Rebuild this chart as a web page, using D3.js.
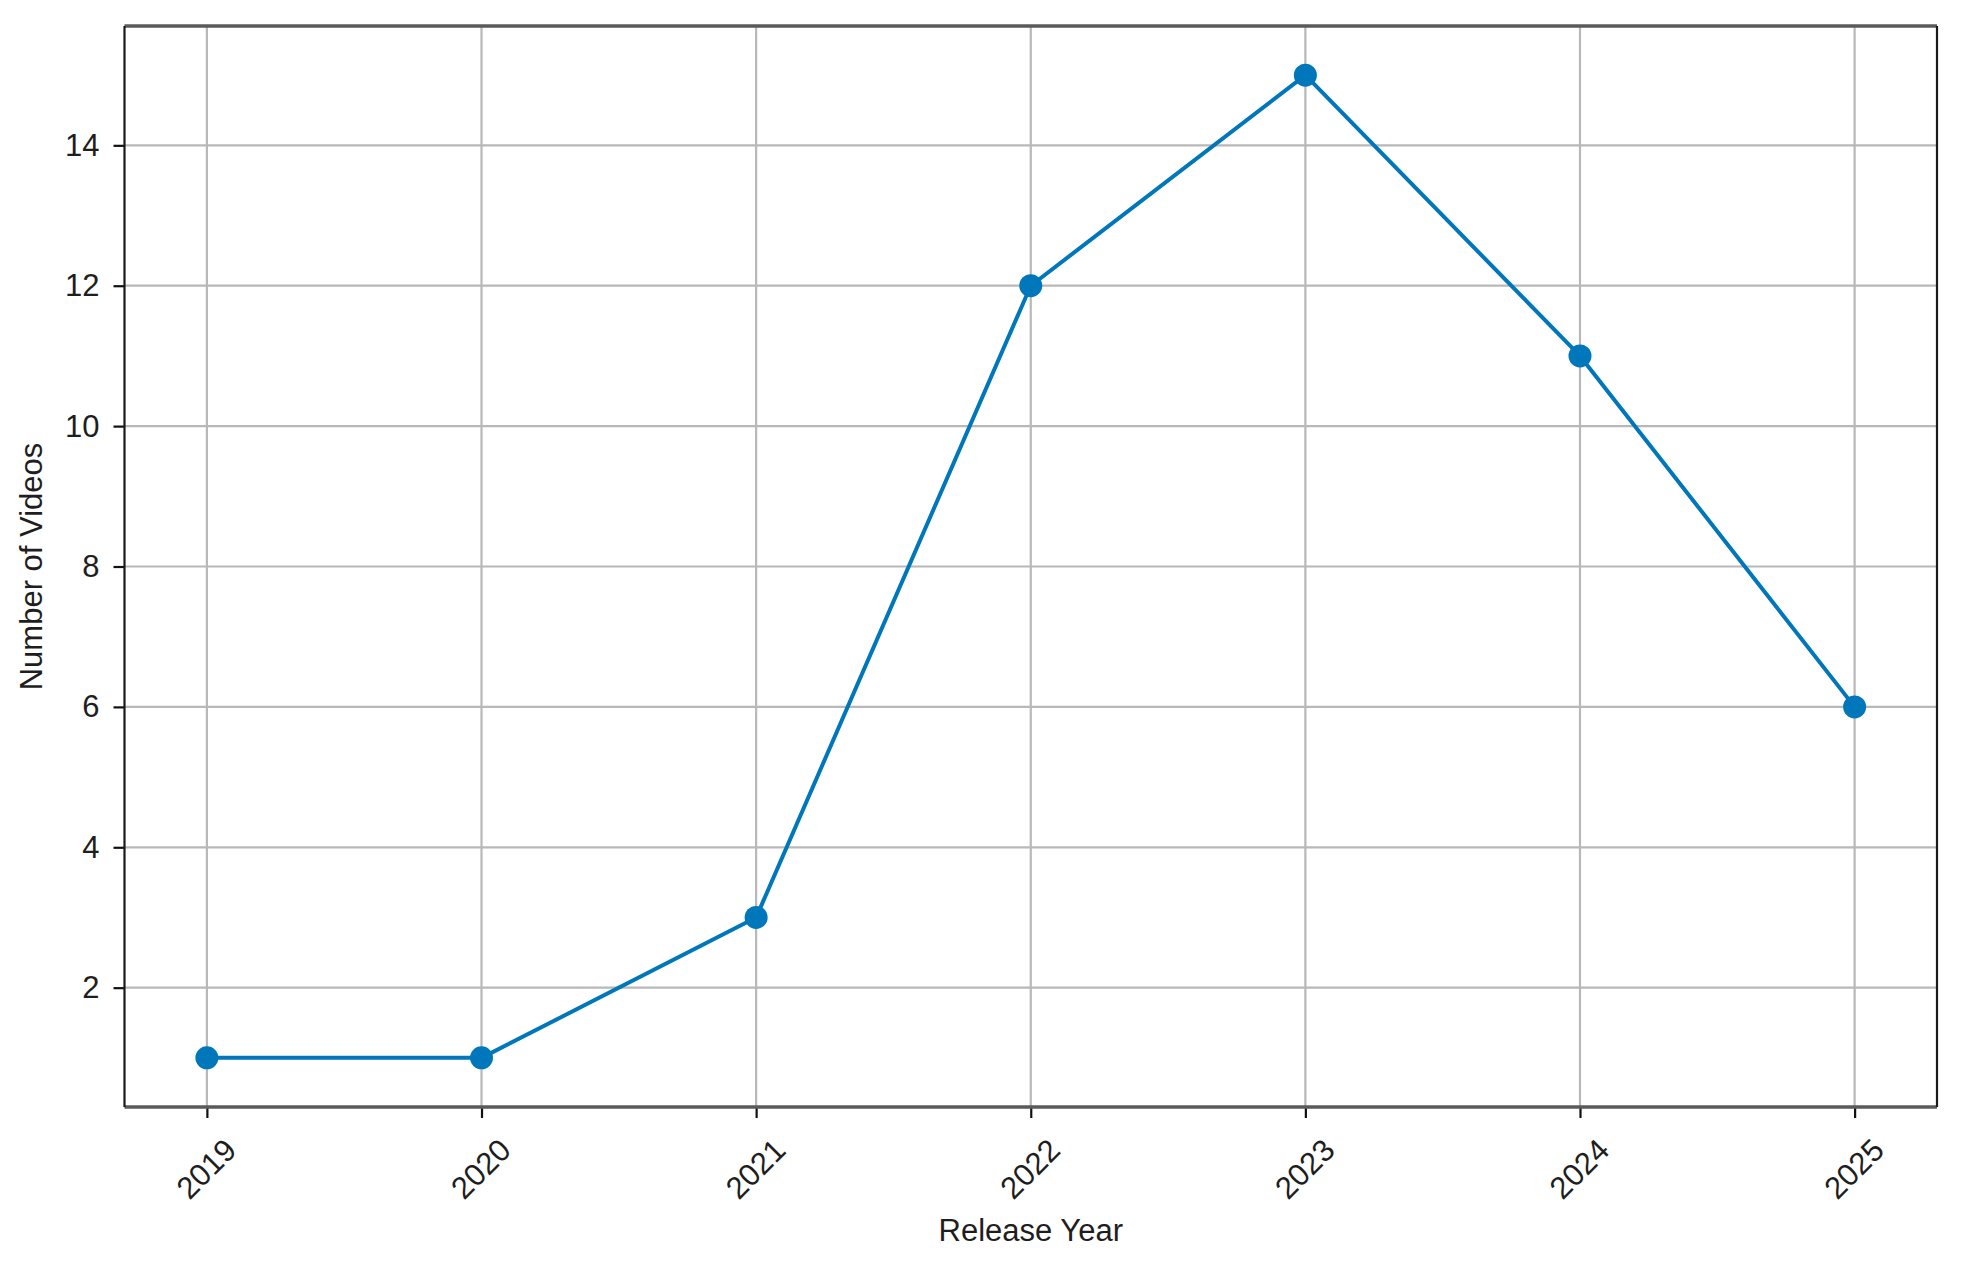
<!DOCTYPE html>
<html>
<head>
<meta charset="utf-8">
<script src="https://cdn.jsdelivr.net/npm/d3@7"></script>
<style>
  html, body { margin: 0; padding: 0; background: #fff; }
  svg { display: block; font-family: "Liberation Sans", Arial, sans-serif; }
</style>
</head>
<body>
<svg id="chart" width="1961" height="1280"></svg>
<script>
const years = [2019, 2020, 2021, 2022, 2023, 2024, 2025];
const counts = [1, 1, 3, 12, 15, 11, 6];
const yTicks = [2, 4, 6, 8, 10, 12, 14];
const xLabel = "Release Year";
const yLabel = "Number of Videos";

const W = 1961, H = 1280;
const m = { left: 124.5, right: W - 1937, top: 26, bottom: H - 1107 };
const svg = d3.select("#chart");

const x = d3.scaleLinear().domain([2018.7, 2025.3]).range([m.left, W - m.right]);
const y = d3.scaleLinear().domain([0.3, 15.7]).range([H - m.bottom, m.top]);

// grid
const grid = svg.append("g");
grid.selectAll("line.vx").data(years).join("line")
  .attr("x1", d => x(d)).attr("x2", d => x(d))
  .attr("y1", m.top).attr("y2", H - m.bottom)
  .attr("stroke", "#b8b8b8").attr("stroke-width", 2.2);
grid.selectAll("line.hy").data(yTicks).join("line")
  .attr("y1", d => y(d)).attr("y2", d => y(d))
  .attr("x1", m.left).attr("x2", W - m.right)
  .attr("stroke", "#b8b8b8").attr("stroke-width", 2.2);

// axes
const xAxis = svg.append("g")
  .attr("transform", `translate(0,${H - m.bottom})`)
  .call(d3.axisBottom(x).tickValues(years).tickFormat(d3.format("d")).tickSize(11).tickPadding(8));
xAxis.select(".domain").remove();
xAxis.selectAll(".tick line").attr("stroke", "#111").attr("stroke-width", 2.2);
xAxis.selectAll(".tick text")
  .attr("font-size", 31).attr("fill", "#1e1e1e")
  .attr("text-anchor", "middle")
  .attr("dy", null).attr("y", null)
  .attr("dominant-baseline", "central")
  .attr("transform", "translate(-1,62) rotate(-45)");

const yAxis = svg.append("g")
  .attr("transform", `translate(${m.left},0)`)
  .call(d3.axisLeft(y).tickValues(yTicks).tickFormat(d3.format("d")).tickSize(11).tickPadding(14));
yAxis.select(".domain").remove();
yAxis.selectAll(".tick line").attr("stroke", "#111").attr("stroke-width", 2.2);
yAxis.selectAll(".tick text").attr("font-size", 31).attr("fill", "#1e1e1e");

// frame
const fr = svg.append("g");
fr.append("line").attr("x1", m.left).attr("x2", W - m.right).attr("y1", m.top).attr("y2", m.top)
  .attr("stroke", "#5a5a5a").attr("stroke-width", 3.5);
fr.append("line").attr("x1", m.left).attr("x2", W - m.right).attr("y1", H - m.bottom).attr("y2", H - m.bottom)
  .attr("stroke", "#5a5a5a").attr("stroke-width", 3.5);
fr.append("line").attr("x1", m.left).attr("x2", m.left).attr("y1", m.top).attr("y2", H - m.bottom)
  .attr("stroke", "#1a1a1a").attr("stroke-width", 2.2);
fr.append("line").attr("x1", W - m.right).attr("x2", W - m.right).attr("y1", m.top).attr("y2", H - m.bottom)
  .attr("stroke", "#1a1a1a").attr("stroke-width", 2.2);

// line + markers
const pts = years.map((d, i) => [d, counts[i]]);
svg.append("path").datum(pts)
  .attr("fill", "none").attr("stroke", "#0077BB").attr("stroke-width", 4)
  .attr("stroke-linejoin", "round")
  .attr("d", d3.line().x(d => x(d[0])).y(d => y(d[1])));
svg.append("g").selectAll("circle").data(pts).join("circle")
  .attr("cx", d => x(d[0])).attr("cy", d => y(d[1])).attr("r", 11.5)
  .attr("fill", "#0077BB");

// labels
svg.append("text").attr("x", (m.left + W - m.right) / 2).attr("y", 1241)
  .attr("text-anchor", "middle").attr("font-size", 31).attr("fill", "#1e1e1e").text(xLabel);
svg.append("text")
  .attr("transform", `translate(42,${(m.top + H - m.bottom) / 2}) rotate(-90)`)
  .attr("text-anchor", "middle").attr("font-size", 31).attr("fill", "#1e1e1e").text(yLabel);
</script>
</body>
</html>
